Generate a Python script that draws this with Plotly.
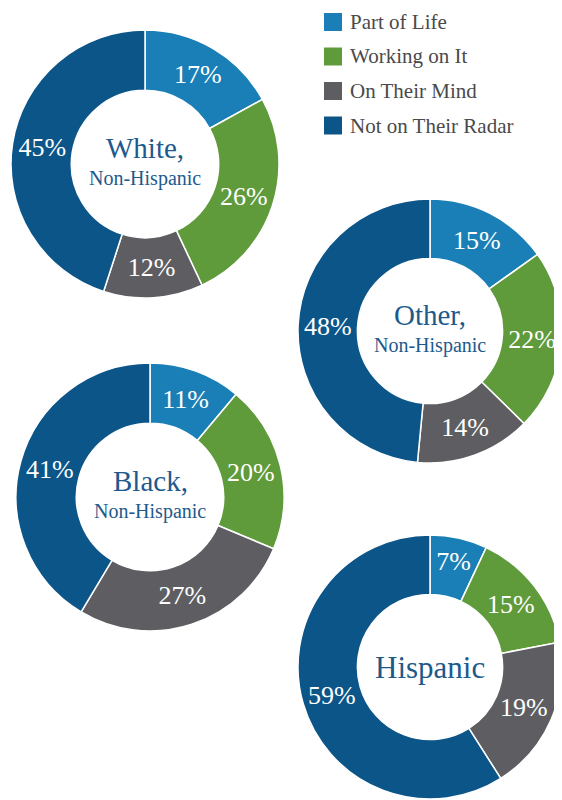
import plotly.graph_objects as go

# ---- data ----
categories = ["Part of Life", "Working on It", "On Their Mind", "Not on Their Radar"]
groups = ["White", "Other", "Black", "Hispanic"]
group_title = ["White,", "Other,", "Black,", "Hispanic"]
group_sub = ["Non-Hispanic", "Non-Hispanic", "Non-Hispanic", ""]
white_vals = [17, 26, 12, 45]
other_vals = [15, 22, 14, 48]
black_vals = [11, 20, 27, 41]
hispanic_vals = [7, 15, 19, 59]
series = [white_vals, other_vals, black_vals, hispanic_vals]

colors = ["#1a7fb6", "#5f9a3b", "#5e5e62", "#0c5589"]
OFF = 8                      # page body margin
W, H = 562 - OFF, 800 - OFF  # visible figure area
FONT = "Liberation Serif"
TITLE_COLOR = "#1d5a8c"

# donut placement in page pixels: center x, center y, radius
placement = [(145, 164, 134), (430, 331, 132), (150, 497, 134), (430, 667, 132)]


def px(x):
    return (x - OFF) / W


def py(y):
    return (H - (y - OFF)) / H


fig = go.Figure()
annotations = []
for vals, (cx, cy, r), t, s in zip(series, placement, group_title, group_sub):
    fig.add_trace(go.Pie(
        labels=categories, values=vals, sort=False, direction="clockwise", rotation=0,
        hole=0.55,
        marker=dict(colors=colors, line=dict(color="white", width=1.5)),
        texttemplate="%{value}%", textposition="inside", insidetextorientation="horizontal",
        textfont=dict(family=FONT, size=26, color="white"),
        domain=dict(x=[max(0, px(cx - r)), min(1, px(cx + r))],
                    y=[max(0, py(cy + r)), min(1, py(cy - r))]),
        showlegend=False, hoverinfo="label+value",
    ))
    if s:
        annotations.append(dict(x=px(cx), y=py(cy - 16), xref="paper", yref="paper",
                                text=t, showarrow=False, xanchor="center", yanchor="middle",
                                font=dict(family=FONT, size=29, color=TITLE_COLOR)))
        annotations.append(dict(x=px(cx), y=py(cy + 14), xref="paper", yref="paper",
                                text=s, showarrow=False, xanchor="center", yanchor="middle",
                                font=dict(family=FONT, size=20, color=TITLE_COLOR)))
    else:
        annotations.append(dict(x=px(cx), y=py(cy), xref="paper", yref="paper",
                                text=t, showarrow=False, xanchor="center", yanchor="middle",
                                font=dict(family=FONT, size=31, color=TITLE_COLOR)))

# manual legend (page pixels)
shapes = []
lx, ly0, step, sq = 324, 22, 34.5, 18
for i, (lab, col) in enumerate(zip(categories, colors)):
    yc = ly0 + i * step
    shapes.append(dict(type="rect", xref="paper", yref="paper",
                       x0=px(lx), x1=px(lx + sq),
                       y0=py(yc + sq / 2), y1=py(yc - sq / 2),
                       fillcolor=col, line=dict(width=0)))
    annotations.append(dict(x=px(lx + sq + 6), y=py(yc), xref="paper", yref="paper",
                            text=lab, showarrow=False, xanchor="left", yanchor="middle",
                            font=dict(family=FONT, size=21, color="#4a4a4a")))

fig.update_layout(width=W, height=H, margin=dict(l=0, r=0, t=0, b=0),
                  paper_bgcolor="white", plot_bgcolor="white",
                  annotations=annotations, shapes=shapes, showlegend=False)

fig.write_html("out.html")
